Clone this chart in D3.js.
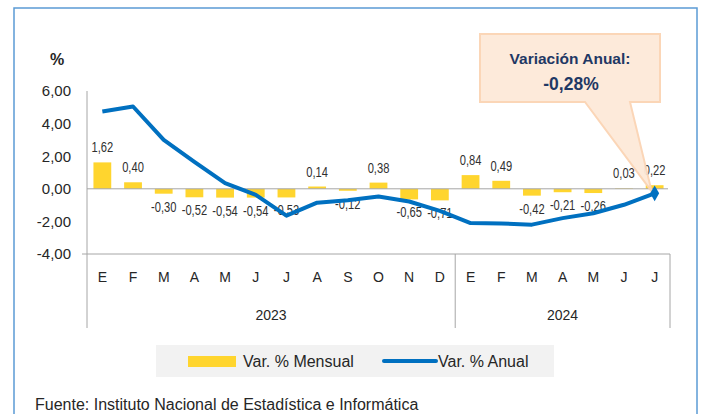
<!DOCTYPE html>
<html>
<head>
<meta charset="utf-8">
<script src="https://cdn.jsdelivr.net/npm/d3@7"></script>
<style>
  body { margin: 0; background: #fff; }
  svg { display: block; }
  text { font-family: "Liberation Sans", Arial, sans-serif; fill: #262626; }
</style>
</head>
<body>
<script>
// meses y años
var months = ["E","F","M","A","M","J","J","A","S","O","N","D","E","F","M","A","M","J","J"];
var years = ["2023", "2024"];
var yearMonths = [12, 7];

// Var. % Mensual
var mensual = [1.62, 0.40, -0.30, -0.52, -0.54, -0.54, -0.53, 0.14, -0.12, 0.38, -0.65, -0.71,
               0.84, 0.49, -0.42, -0.21, -0.26, 0.03, 0.22];
// Var. % Anual
var anual = [4.74, 5.05, 3.00, 1.65, 0.35, -0.37, -1.65, -0.85, -0.70, -0.47, -0.78, -1.35,
             -2.10, -2.13, -2.20, -1.80, -1.50, -0.98, -0.28];

var yTicks = [-4, -2, 0, 2, 4, 6];

var svg = d3.select("body").append("svg").attr("width", 702).attr("height", 414);

// marco
svg.append("rect").attr("x", 14).attr("y", 8).attr("width", 683).attr("height", 420)
  .attr("fill", "none").attr("stroke", "#5b9bd5").attr("stroke-width", 1.5);

var x = d3.scaleBand().domain(d3.range(months.length)).range([87, 670]).padding(0);
var y = d3.scaleLinear().domain([-4, 6]).range([254, 91]);
var cx = function(i) { return x(i) + x.bandwidth() / 2; };
var fmt = function(v) { return (v < 0 ? "-" : "") + Math.abs(v).toFixed(2).replace(".", ","); };

// eje Y
var yAxis = svg.append("g").attr("transform", "translate(87,0)")
  .call(d3.axisLeft(y).tickValues(yTicks).tickSize(0).tickPadding(16).tickFormat(fmt));
yAxis.select(".domain").remove();
yAxis.selectAll("text").attr("font-size", 15).attr("font-family", "Liberation Sans, sans-serif")
  .style("fill", "#262626");

svg.append("line").attr("x1", 87).attr("x2", 87).attr("y1", y(6)).attr("y2", 328)
  .attr("stroke", "#a6a6a6");

svg.append("text").attr("x", 57).attr("y", 65).attr("text-anchor", "middle")
  .attr("font-size", 16).attr("font-weight", "bold").text("%");

// barras
svg.selectAll(".bar").data(mensual).enter().append("rect")
  .attr("class", "bar")
  .attr("x", function(d, i) { return cx(i) - x.bandwidth() * 0.29; })
  .attr("width", x.bandwidth() * 0.58)
  .attr("y", function(d) { return y(Math.max(0, d)); })
  .attr("height", function(d) { return Math.abs(y(d) - y(0)); })
  .attr("fill", "#ffd52e");

// linea cero
svg.append("line").attr("x1", 87).attr("x2", 668).attr("y1", y(0)).attr("y2", y(0))
  .attr("stroke", "#a6a6a6");

// eje de categorias (multinivel)
svg.append("line").attr("x1", 82).attr("x2", 670).attr("y1", y(-4)).attr("y2", y(-4))
  .attr("stroke", "#a6a6a6");

var monthAxis = svg.append("g").attr("transform", "translate(0," + y(-4) + ")")
  .call(d3.axisBottom(x).tickSize(0).tickPadding(18).tickFormat(function(i) { return months[i]; }));
monthAxis.select(".domain").remove();
monthAxis.selectAll("text").attr("font-size", 14).attr("font-family", "Liberation Sans, sans-serif")
  .style("fill", "#262626");

var start = 0;
years.forEach(function(yr, k) {
  var end = start + yearMonths[k] - 1;
  var x0 = x(start), x1 = x(end) + x.bandwidth();
  svg.append("line").attr("x1", x1).attr("x2", x1).attr("y1", y(-4)).attr("y2", 328)
    .attr("stroke", "#a6a6a6");
  svg.append("text").attr("x", (x0 + x1) / 2).attr("y", 320).attr("text-anchor", "middle")
    .attr("font-size", 14).text(yr);
  start = end + 1;
});

// etiquetas de barras
svg.selectAll(".lbl").data(mensual).enter().append("text")
  .attr("class", "lbl")
  .attr("transform", function(d, i) {
    var ty = d >= 0 ? y(d) - 10 : y(d) + 18;
    return "translate(" + cx(i) + "," + ty + ") scale(0.72,1)";
  })
  .attr("text-anchor", "middle")
  .attr("font-size", 15.5)
  .style("fill", "#303030")
  .text(fmt);

// linea anual
var line = d3.line().x(function(d, i) { return cx(i); }).y(function(d) { return y(d); });
svg.append("path").datum(anual).attr("d", line)
  .attr("fill", "none").attr("stroke", "#0070c0").attr("stroke-width", 4)
  .attr("stroke-linejoin", "round");

// llamada
var last = anual.length - 1;
var tipX = cx(last) - 3, tipY = y(anual[last]) - 2;
svg.append("path")
  .attr("d", "M480,34 H660 V102 H630 L" + tipX + "," + tipY + " L585,102 H480 Z")
  .attr("fill", "#fde9d9").attr("stroke", "#fbd4b4").attr("stroke-width", 2)
  .attr("opacity", 0.95);
svg.append("text").attr("x", 570).attr("y", 64).attr("text-anchor", "middle")
  .attr("font-size", 15.5).attr("font-weight", "bold").style("fill", "#1f3864")
  .text("Variación Anual:");
svg.append("text").attr("x", 571).attr("y", 90).attr("text-anchor", "middle")
  .attr("font-size", 17.5).attr("font-weight", "bold").style("fill", "#1f3864")
  .text(fmt(anual[last]) + "%");

// marcador final
svg.append("path")
  .attr("transform", "translate(" + cx(last) + "," + y(anual[last]) + ")")
  .attr("d", d3.symbol().type(d3.symbolDiamond).size(70))
  .attr("fill", "#0070c0");

// leyenda
var leg = svg.append("g");
leg.append("rect").attr("x", 156).attr("y", 345).attr("width", 398).attr("height", 32).attr("fill", "#f2f2f2");
leg.append("rect").attr("x", 188).attr("y", 356).attr("width", 48).attr("height", 11).attr("fill", "#ffd52e");
leg.append("text").attr("x", 243).attr("y", 367).attr("font-size", 16).text("Var. % Mensual");
leg.append("line").attr("x1", 384).attr("x2", 436).attr("y1", 361).attr("y2", 361)
  .attr("stroke", "#0070c0").attr("stroke-width", 4).attr("stroke-linecap", "round");
leg.append("text").attr("x", 438).attr("y", 367).attr("font-size", 16).text("Var. % Anual");

// fuente
svg.append("text").attr("x", 35).attr("y", 410).attr("font-size", 16)
  .text("Fuente: Instituto Nacional de Estadística e Informática");
</script>
</body>
</html>
